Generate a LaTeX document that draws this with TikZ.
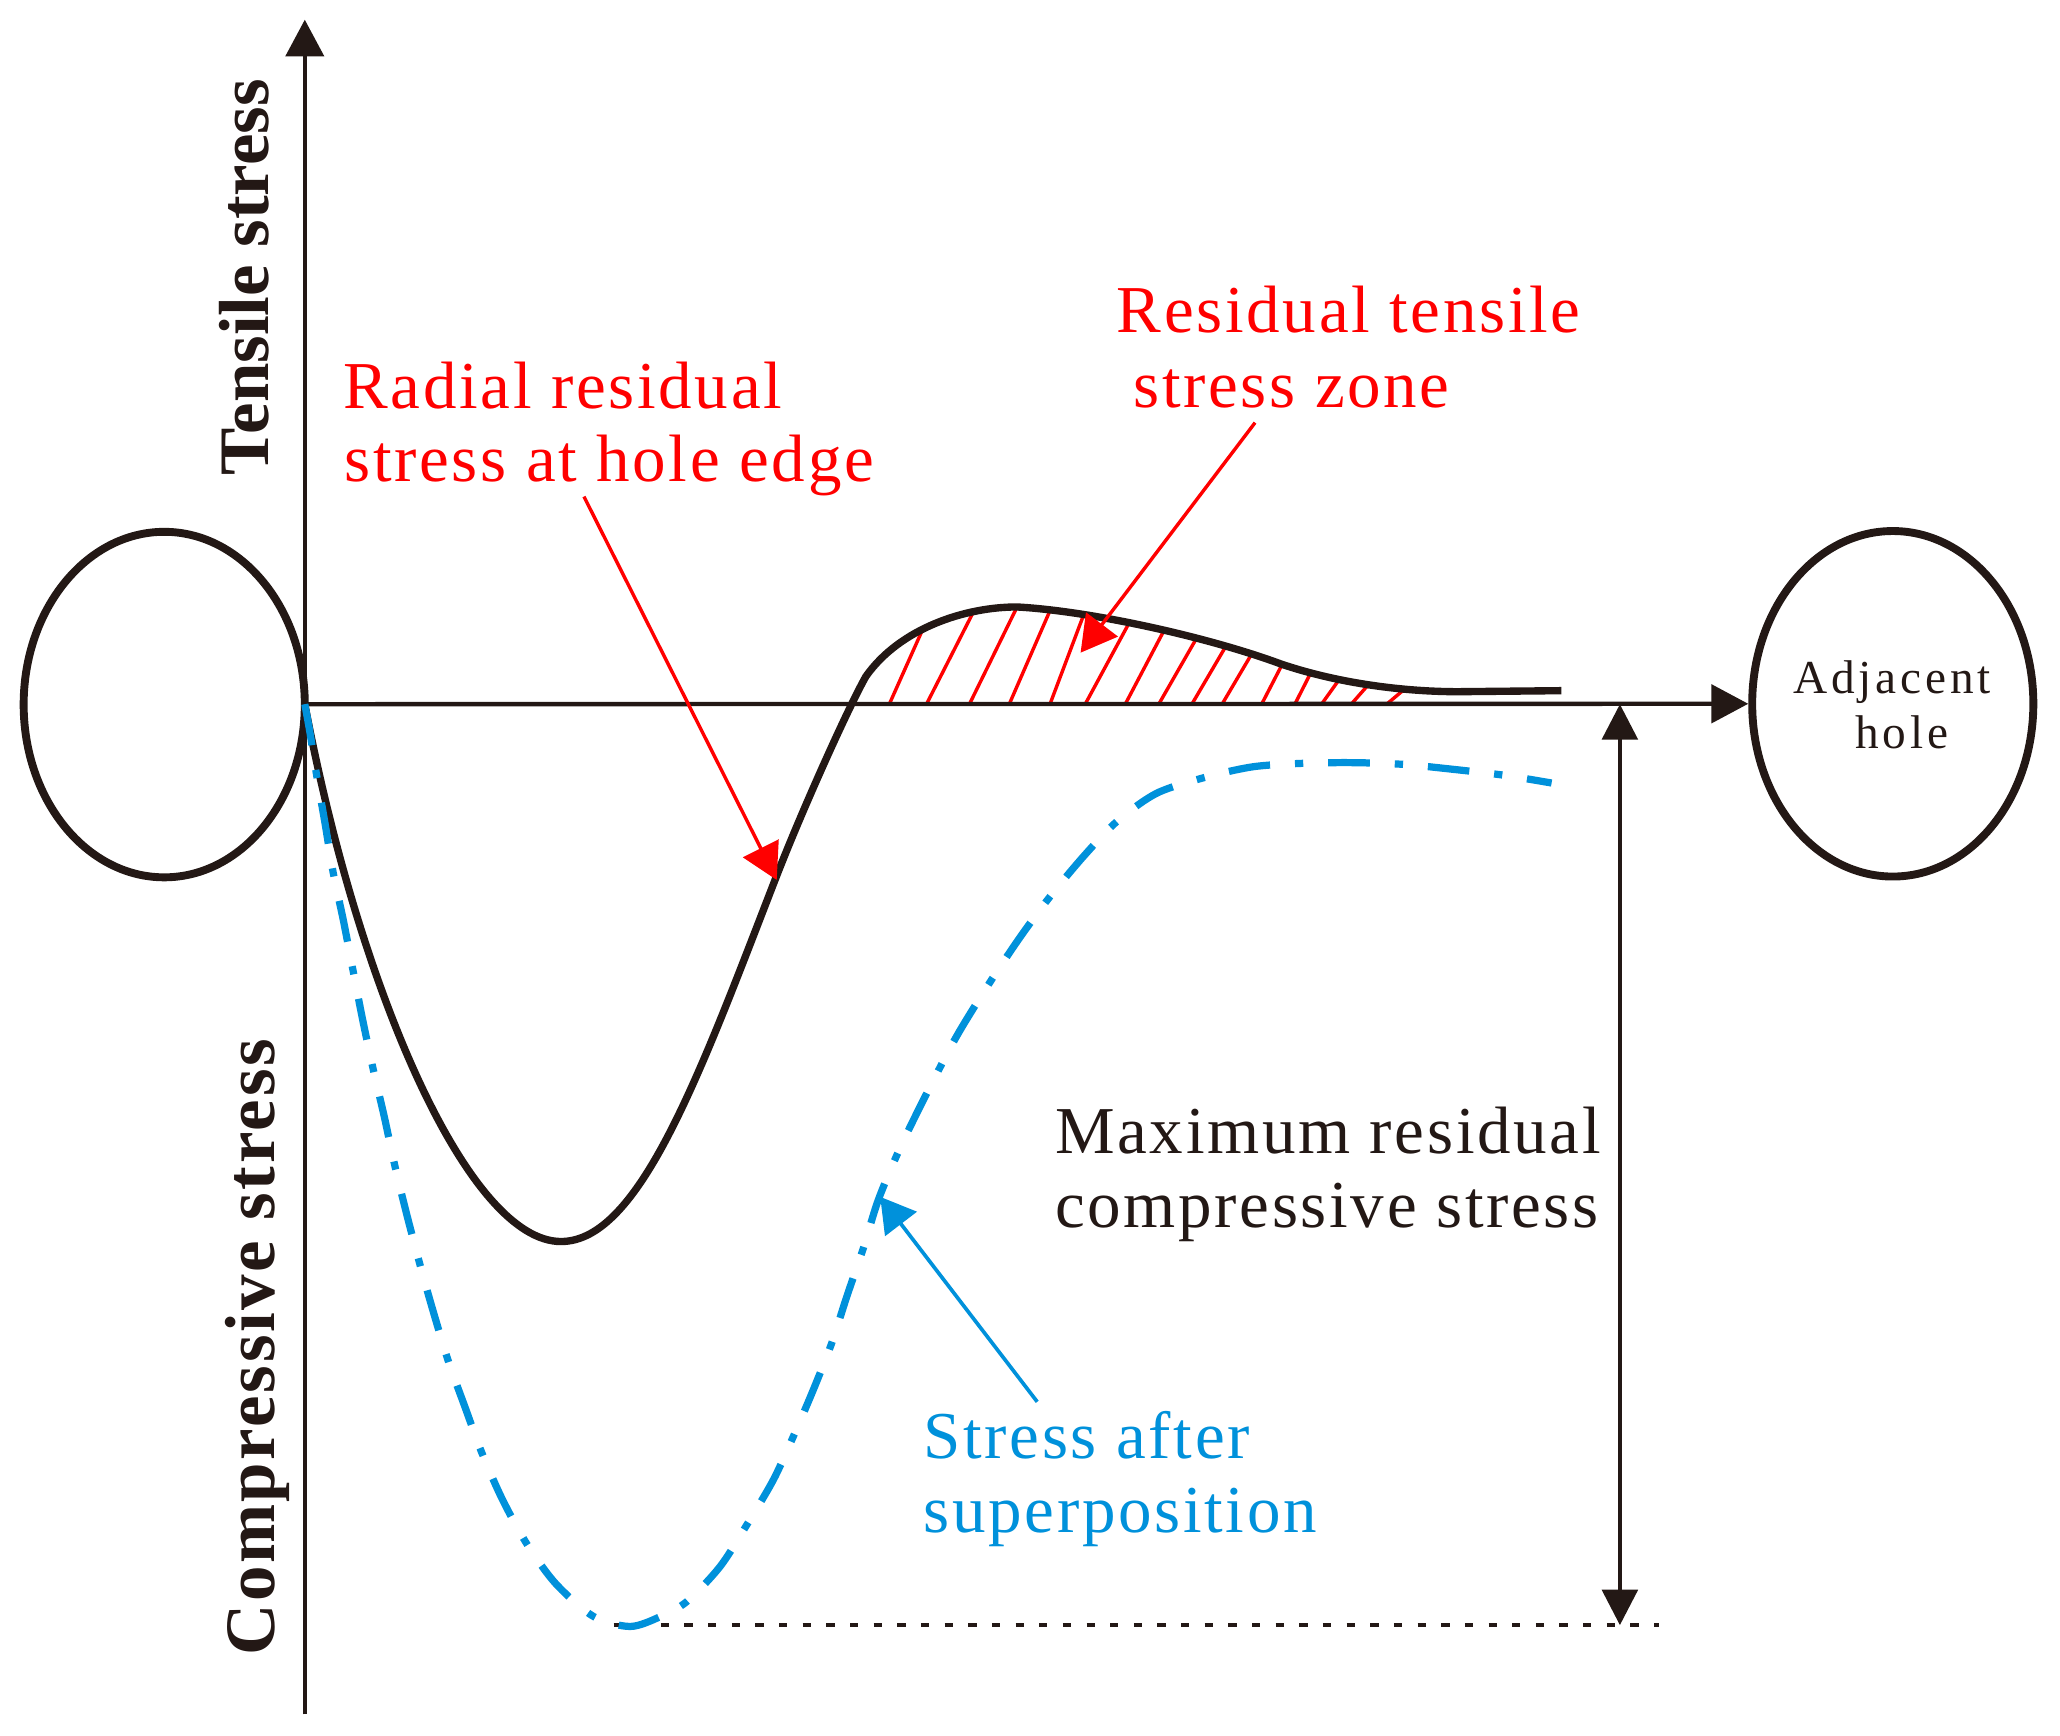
\documentclass[tikz,border=0pt]{standalone}
\usepackage{fontspec}
\setmainfont{Liberation Serif}
\newfontfamily\lblfont[LetterSpace=4]{Liberation Serif}
\newfontfamily\adjfont[LetterSpace=8]{Liberation Serif}
\newfontfamily\axCfont[LetterSpace=3.7]{Liberation Serif}
\usetikzlibrary{arrows.meta,shapes.geometric}
\definecolor{ink}{HTML}{231815}
\definecolor{supblue}{HTML}{0091DB}
\definecolor{pured}{HTML}{FF0000}
\begin{document}
\begin{tikzpicture}[x=1pt,y=-1pt,
  holeshape/.style={draw=ink, line width=6pt, ellipse, inner sep=0pt, minimum width=214pt, minimum height=263pt},
  axisline/.style={draw=ink, line width=3.3pt, -{Triangle[length=28pt,width=29pt]}},
  dimline/.style={draw=ink, line width=3.3pt, {Triangle[length=27pt,width=27pt]}-{Triangle[length=27pt,width=27pt]}},
  dotline/.style={draw=ink, line width=3pt, dash pattern=on 6.3pt off 11.7pt},
  blackcurve/.style={draw=ink, line width=5.6pt, line join=round},
  bluecurve/.style={draw=supblue, line width=5.5pt, dash pattern=on 31.7pt off 19pt on 6.3pt off 19pt},
  hatchline/.style={draw=pured, line width=2.6pt},
  redarrow/.style={draw=pured, line width=2.6pt, -{Triangle[length=27pt,width=30pt]}},
  bluearrow/.style={draw=supblue, line width=2.8pt, -{Triangle[length=26pt,width=30pt]}},
  redlbl/.style={text=pured, font=\lblfont\fontsize{51}{60}\selectfont, anchor=base west, inner sep=0pt},
  bluelbl/.style={text=supblue, font=\lblfont\fontsize{51}{60}\selectfont, anchor=base west, inner sep=0pt},
  blacklbl/.style={text=ink, font=\lblfont\fontsize{51}{60}\selectfont, anchor=base west, inner sep=0pt},
  adjlbl/.style={text=ink, font=\adjfont\fontsize{36}{42}\selectfont, anchor=base west, inner sep=0pt}
]
\useasboundingbox (0,0) rectangle (1568,1321);
\fill[white] (0,0) rectangle (1568,1321);

% holes
\node[holeshape] (lefthole) at (125,536.3) {};
\node[holeshape] (adj) at (1440.7,535.7) {};
\node[adjlbl] (adjA) at (1365,527.7) {Adjacent};
\node[adjlbl] (adjB) at (1412,569.6) {hole};

% key coordinates
\coordinate (o) at (232,536);
\coordinate (ytop) at (232,15);
\coordinate (ybot) at (232,1305);
\coordinate (dimtop) at (1233,536);
\coordinate (dimbot) at (1233,1237);
\coordinate (dotL) at (467,1237);
\coordinate (dotR) at (1263,1237);

% hatch
\foreach \a/\c/\d in {676.9/702.1/479.5, 705.2/741/465.6, 737.9/774/462.3, 768.2/799.2/464.8,
  799.2/824.3/469.4, 826.0/858.6/475.7, 856.5/885.5/480.8, 882.0/910.3/486.6, 907.2/932.9/492.2,
  930.2/952.7/497.8, 960.3/976/505.6, 985.6/997.1/513.3, 1005.9/1018.2/518.8, 1028.5/1040.2/522.7,
  1055.5/1067.7/525.7}
  \draw[hatchline] (\a,536) -- (\c,\d);

% axes
\draw[axisline] (ybot) -- (ytop);
\draw[axisline] (o) -- (adj.west);

% dotted line and dimension arrow
\draw[dotline] (dotL) -- (dotR);
\draw[dimline] (dimtop) -- (dimbot);

% black curve
\draw[blackcurve] (o) .. controls (273.8,756) and (357,945) .. (427,945)
  .. controls (487,945) and (532.8,817) .. (591,667)
  .. controls (610,618) and (645,540) .. (659,515)
  .. controls (685,478) and (735,462) .. (774,462)
  .. controls (830,465) and (920,485) .. (975,505.4)
  .. controls (1020,520.6) and (1070,526.5) .. (1110,526.5)
  -- (1188.5,525.7);

% blue curve
\draw[bluecurve] plot[smooth, tension=0.5] coordinates {
 (232,536) (236,558) (241,590) (247.4,626.7) (253.7,664.7) (261.3,700.3) (268.9,739.6)
 (276,776) (284.1,814) (292.5,850) (300.7,888) (309.5,924) (319.7,962.7) (329.8,998.4)
 (341.2,1035.9) (353.9,1070.9) (366.6,1105.4) (382.3,1141.1) (400.9,1175) (423,1205.4)
 (451.6,1230.3) (479.5,1238) (502.4,1230.6) (522.7,1219.1) (548,1192.5) (568.4,1160.7)
 (588.6,1126.5) (603.8,1093.5) (619,1058) (633,1022.5) (644.5,987) (657.1,950.2) (668.5,913.4)
 (685,874) (705,833) (728,789) (752,750) (776,714) (799.2,682.5) (824.6,652) (850,625.4)
 (880.4,603.8) (917.2,591.7) (954,583.6) (992,581) (1030,580.5) (1068,581.8) (1106.2,585.6)
 (1144.2,590) (1181,596)};

% axis labels
\node[rotate=90, anchor=base west, inner sep=0pt, text=ink, font=\bfseries\fontsize{54}{64}\selectfont] (tens) at (204.2,362) {Tensile stress};
\node[rotate=90, anchor=base west, inner sep=0pt, text=ink, font=\axCfont\bfseries\fontsize{54}{64}\selectfont] (comp) at (208.6,1260.5) {Compressive stress};

% labels
\node[redlbl] (r1a) at (261.3,310.8) {Radial residual};
\node[redlbl] (r1b) at (262,366.6) {stress at hole edge};
\node[redlbl] (r2a) at (850,253.2) {Residual tensile};
\node[redlbl] (r2b) at (862.6,310) {stress zone};
\node[blacklbl] (m1) at (803,877.9) {Maximum residual};
\node[blacklbl] (m2) at (803,934.2) {compressive stress};
\node[bluelbl] (s1) at (702.8,1110) {Stress after};
\node[bluelbl] (s2) at (702.8,1166.6) {superposition};

% pointer arrows
\coordinate (r1tail) at (444.5,378);
\coordinate (r1tip) at (591.2,669.8);
\coordinate (r2tail) at (955.3,321.7);
\coordinate (r2tip) at (822.5,496.8);
\coordinate (btail) at (789.5,1067);
\coordinate (btip) at (670,911);
\draw[redarrow] (r1tail) -- (r1tip);
\draw[redarrow] (r2tail) -- (r2tip);
\draw[bluearrow] (btail) -- (btip);
\end{tikzpicture}
\end{document}
